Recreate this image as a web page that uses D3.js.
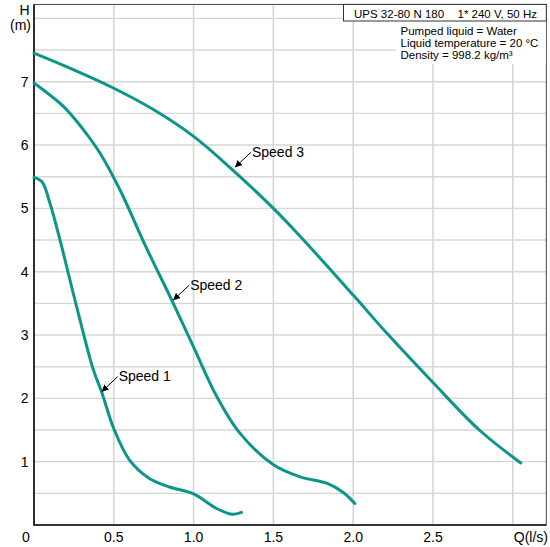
<!DOCTYPE html>
<html>
<head>
<meta charset="utf-8">
<script src="https://cdn.jsdelivr.net/npm/d3@7"></script>
<style>
body { margin: 0; background: #fff; }
text { font-family: "Liberation Sans", Arial, sans-serif; fill: #000; }
</style>
</head>
<body>
<svg class="chart"></svg>
<script>
// pump curves, Q (l/s) vs H (m)
var speed1 = [[0, 5.49], [0.05, 5.42], [0.10, 5.08], [0.163, 4.5], [0.225, 3.87], [0.288, 3.24],
    [0.372, 2.45], [0.424, 2.1], [0.5, 1.52], [0.6, 1.02], [0.72, 0.74], [0.85, 0.6],
    [1.0, 0.49], [1.145, 0.26], [1.24, 0.17], [1.30, 0.2]];
var speed2 = [[0, 6.98], [0.184, 6.61], [0.31, 6.24], [0.414, 5.87], [0.539, 5.29], [0.70, 4.4],
    [0.863, 3.55], [0.998, 2.82], [1.145, 2.03], [1.29, 1.45], [1.5, 0.95], [1.667, 0.76],
    [1.834, 0.66], [1.94, 0.51], [2.01, 0.34]];
var speed3 = [[0, 7.45], [0.246, 7.19], [0.497, 6.9], [0.748, 6.56], [0.998, 6.14], [1.23, 5.64],
    [1.5, 5.0], [1.66, 4.58], [2.0, 3.63], [2.21, 3.03], [2.5, 2.25], [2.79, 1.5], [3.05, 0.98]];

var curveNames = ["Speed 1", "Speed 2", "Speed 3"];
var labelPoints = [[0.424, 2.105], [0.872, 3.55], [1.259, 5.648]];

var xTicks = [0, 0.5, 1.0, 1.5, 2.0, 2.5];
var xTickLabels = ["0", "0.5", "1.0", "1.5", "2.0", "2.5"];
var yTicks = [1, 2, 3, 4, 5, 6, 7];

var header1 = "UPS 32-80 N 180",
    header2 = "1* 240 V, 50 Hz";
var infoLines = ["Pumped liquid = Water", "Liquid temperature = 20 °C", "Density = 998.2 kg/m³"];

var width = 550,
    height = 547,
    teal = "#0c968a";

var x = d3.scaleLinear()
    .domain([0, 3.21])
    .range([34, 34 + 3.21 * 159.6]);

var y = d3.scaleLinear()
    .domain([0, 8.22])
    .range([525, 525 - 8.22 * 63.33]);

var chart = d3.select(".chart")
    .attr("width", width)
    .attr("height", height);

var x0 = x.range()[0], x1 = x.range()[1],
    y0 = y.range()[0], y1 = y.range()[1];

// grid
chart.append("g").selectAll("line")
    .data(d3.range(0.5, 3.01, 0.5))
    .enter().append("line")
    .attr("x1", x).attr("x2", x)
    .attr("y1", y0).attr("y2", y1)
    .attr("stroke", "#d6d6d6")
    .attr("stroke-width", 1.6);

chart.append("g").selectAll("line")
    .data(d3.range(0.5, 8.01, 0.5))
    .enter().append("line")
    .attr("x1", x0).attr("x2", x1)
    .attr("y1", y).attr("y2", y)
    .attr("stroke", "#d6d6d6")
    .attr("stroke-width", 1.4);

// frame
chart.append("rect")
    .attr("x", x0).attr("y", y1)
    .attr("width", x1 - x0).attr("height", y0 - y1)
    .attr("fill", "none")
    .attr("stroke", "#444")
    .attr("stroke-width", 1);

chart.append("path")
    .attr("d", "M" + x0 + "," + y1 + "V" + y0 + "H" + x1)
    .attr("fill", "none")
    .attr("stroke", "#111")
    .attr("stroke-width", 1.6);

// header box and info text
chart.append("rect")
    .attr("x", 396).attr("y", 21)
    .attr("width", x1 - 396.5).attr("height", 43)
    .attr("fill", "#fff");

chart.append("rect")
    .attr("x", 343.5).attr("y", y1)
    .attr("width", x1 - 343.5).attr("height", 21 - y1)
    .attr("fill", "#fff")
    .attr("stroke", "#333")
    .attr("stroke-width", 1);

chart.append("text")
    .attr("x", 354).attr("y", 18)
    .style("font-size", "11.5px")
    .text(header1);

chart.append("text")
    .attr("x", 537).attr("y", 18)
    .attr("text-anchor", "end")
    .style("font-size", "11.5px")
    .text(header2);

chart.append("g").selectAll("text")
    .data(infoLines)
    .enter().append("text")
    .attr("x", 400.5)
    .attr("y", function(d, i) { return 35 + i * 12.2; })
    .style("font-size", "11.5px")
    .text(function(d) { return d; });

// curves
var line = d3.line()
    .x(function(d) { return x(d[0]); })
    .y(function(d) { return y(d[1]); })
    .curve(d3.curveCatmullRom.alpha(0.5));

chart.append("g").selectAll("path")
    .data([speed1, speed2, speed3])
    .enter().append("path")
    .attr("d", line)
    .attr("fill", "none")
    .attr("stroke", teal)
    .attr("stroke-width", 3)
    .attr("stroke-linecap", "round");

// speed labels with arrows
chart.append("defs").append("marker")
    .attr("id", "arrow")
    .attr("viewBox", "0 0 10 10")
    .attr("refX", 10).attr("refY", 5)
    .attr("markerWidth", 7).attr("markerHeight", 7)
    .attr("markerUnits", "userSpaceOnUse")
    .attr("orient", "auto")
    .append("path")
    .attr("d", "M0,0L10,5L0,10z")
    .attr("fill", "#000");

var lab = chart.append("g").selectAll("g")
    .data(labelPoints)
    .enter().append("g")
    .attr("transform", function(d) { return "translate(" + x(d[0]) + "," + y(d[1]) + ")"; });

lab.append("line")
    .attr("x1", 16).attr("y1", -15)
    .attr("x2", 0).attr("y2", 0)
    .attr("stroke", "#000")
    .attr("stroke-width", 1)
    .attr("marker-end", "url(#arrow)");

lab.append("text")
    .attr("x", 17).attr("y", -10.5)
    .style("font-size", "14px")
    .text(function(d, i) { return curveNames[i]; });

// axis labels
chart.append("g").selectAll("text")
    .data(xTicks)
    .enter().append("text")
    .attr("x", function(d) { return d === 0 ? x(d) - 8 : x(d); })
    .attr("y", 541.5)
    .attr("text-anchor", "middle")
    .style("font-size", "14px")
    .text(function(d, i) { return xTickLabels[i]; });

chart.append("text")
    .attr("x", 548).attr("y", 541.5)
    .attr("text-anchor", "end")
    .style("font-size", "14px")
    .text("Q(l/s)");

chart.append("g").selectAll("text")
    .data(yTicks)
    .enter().append("text")
    .attr("x", 28.5)
    .attr("y", function(d) { return y(d) + 5; })
    .attr("text-anchor", "end")
    .style("font-size", "14px")
    .text(function(d) { return d; });

chart.append("text")
    .attr("x", 24.5).attr("y", 14.5)
    .attr("text-anchor", "middle")
    .style("font-size", "14px")
    .text("H");

chart.append("text")
    .attr("x", 20.5).attr("y", 30)
    .attr("text-anchor", "middle")
    .style("font-size", "14px")
    .text("(m)");
</script>
</body>
</html>
